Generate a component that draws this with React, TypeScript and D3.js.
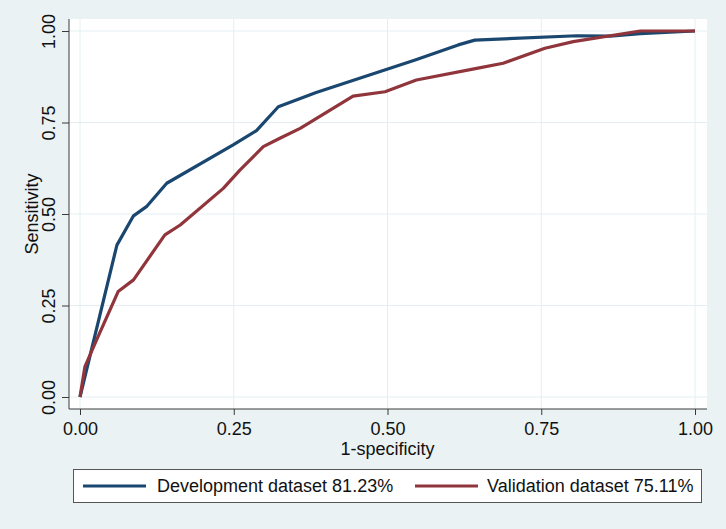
import React, { useEffect, useRef } from 'react';
import * as d3 from 'd3';

type Pt = [number, number];

// Development dataset ROC (1-specificity, sensitivity)
const devX = [0, 0.06, 0.087, 0.108, 0.141, 0.249, 0.287, 0.3225, 0.384, 0.545, 0.615, 0.642, 0.808, 0.862, 0.911, 1];
const devY = [0, 0.415, 0.495, 0.52, 0.584, 0.689, 0.728, 0.793, 0.832, 0.921, 0.962, 0.975, 0.987, 0.986, 0.993, 1];

// Validation dataset ROC
const valX = [0, 0.008, 0.027, 0.062, 0.087, 0.138, 0.163, 0.233, 0.26, 0.298, 0.325, 0.358, 0.444, 0.496, 0.547, 0.645, 0.688, 0.756, 0.802, 0.911, 1];
const valY = [0, 0.083, 0.156, 0.288, 0.32, 0.443, 0.47, 0.57, 0.62, 0.684, 0.707, 0.734, 0.822, 0.834, 0.866, 0.898, 0.912, 0.953, 0.971, 1, 1];

const tickValues = [0, 0.25, 0.5, 0.75, 1];
const seriesNames = ['Development dataset 81.23%', 'Validation dataset 75.11%'];
const seriesColors = ['#1a476f', '#90353b'];

const App: React.FC = () => {
  const svgRef = useRef<SVGSVGElement | null>(null);

  useEffect(() => {
    if (!svgRef.current) return;
    const width = 726;
    const height = 529;
    const bg = '#eaf2f3';
    const font = '"Liberation Sans", Arial, Helvetica, sans-serif';

    const svg = d3.select(svgRef.current)
      .attr('width', width)
      .attr('height', height);
    svg.selectAll('*').remove();

    svg.append('rect').attr('width', width).attr('height', height).attr('fill', bg);

    // plot region
    const region = { left: 69, right: 707, top: 19, bottom: 409 };
    svg.append('rect')
      .attr('x', region.left)
      .attr('y', region.top)
      .attr('width', region.right - region.left)
      .attr('height', region.bottom - region.top)
      .attr('fill', '#fff');

    const x = d3.scaleLinear().domain([0, 1]).range([80, 695]);
    const y = d3.scaleLinear().domain([0, 1]).range([397, 31]);

    // grid
    const grid = svg.append('g').attr('stroke', '#e4eef2').attr('stroke-width', 1);
    tickValues.forEach(t => {
      grid.append('line')
        .attr('x1', region.left).attr('x2', region.right)
        .attr('y1', y(t)).attr('y2', y(t));
      grid.append('line')
        .attr('x1', x(t)).attr('x2', x(t))
        .attr('y1', region.top).attr('y2', region.bottom);
    });

    // axes
    const axisColor = '#3a3a3a';
    const yAxis = svg.append('g')
      .attr('transform', `translate(${region.left},0)`)
      .call(d3.axisLeft(y).tickValues(tickValues).tickSize(7).tickPadding(5).tickFormat(d3.format('.2f')));
    yAxis.select('.domain').attr('d', `M0,${region.top}V${region.bottom}`).attr('stroke', axisColor);
    yAxis.selectAll('.tick line').attr('stroke', axisColor);
    yAxis.selectAll('.tick text')
      .attr('font-family', font)
      .attr('font-size', 18)
      .attr('fill', '#111')
      .attr('text-anchor', 'middle')
      .attr('transform', 'rotate(-90)')
      .attr('x', 0)
      .attr('y', -14)
      .attr('dy', 0);

    const xAxis = svg.append('g')
      .attr('transform', `translate(0,${region.bottom})`)
      .call(d3.axisBottom(x).tickValues(tickValues).tickSize(6).tickPadding(5).tickFormat(d3.format('.2f')));
    xAxis.select('.domain').attr('d', `M${region.left},0H${region.right}`).attr('stroke', axisColor);
    xAxis.selectAll('.tick line').attr('stroke', axisColor);
    xAxis.selectAll('.tick text')
      .attr('font-family', font)
      .attr('font-size', 18)
      .attr('fill', '#111')
      .attr('y', 26)
      .attr('dy', 0);

    // axis titles
    svg.append('text')
      .attr('x', x(0.5))
      .attr('y', 455)
      .attr('text-anchor', 'middle')
      .attr('font-family', font)
      .attr('font-size', 18)
      .attr('fill', '#111')
      .text('1-specificity');

    svg.append('text')
      .attr('transform', `translate(38,${y(0.5)}) rotate(-90)`)
      .attr('text-anchor', 'middle')
      .attr('font-family', font)
      .attr('font-size', 18)
      .attr('fill', '#111')
      .text('Sensitivity');

    // curves
    const line = d3.line<Pt>().x(d => x(d[0])).y(d => y(d[1]));
    const series: Pt[][] = [
      devX.map((v, i) => [v, devY[i]] as Pt),
      valX.map((v, i) => [v, valY[i]] as Pt),
    ];
    series.forEach((pts, i) => {
      svg.append('path')
        .datum(pts)
        .attr('d', line)
        .attr('fill', 'none')
        .attr('stroke', seriesColors[i])
        .attr('stroke-width', 3.2)
        .attr('stroke-linejoin', 'round');
    });

    // legend
    const legend = svg.append('g');
    legend.append('rect')
      .attr('x', 73.5).attr('y', 469.5)
      .attr('width', 628).attr('height', 33)
      .attr('fill', '#fff')
      .attr('stroke', '#555');
    const legendX = [[83, 146, 157], [415, 478, 487]];
    seriesNames.forEach((name, i) => {
      const [l1, l2, tx] = legendX[i];
      legend.append('line')
        .attr('x1', l1).attr('x2', l2)
        .attr('y1', 486).attr('y2', 486)
        .attr('stroke', seriesColors[i])
        .attr('stroke-width', 3.2);
      legend.append('text')
        .attr('x', tx).attr('y', 492)
        .attr('font-family', font)
        .attr('font-size', 18)
        .attr('fill', '#111')
        .text(name);
    });
  }, []);

  return (
    <div style={{ position: 'absolute', left: 0, top: 0 }}>
      <svg ref={svgRef} style={{ display: 'block' }}></svg>
    </div>
  );
};

export default App;
